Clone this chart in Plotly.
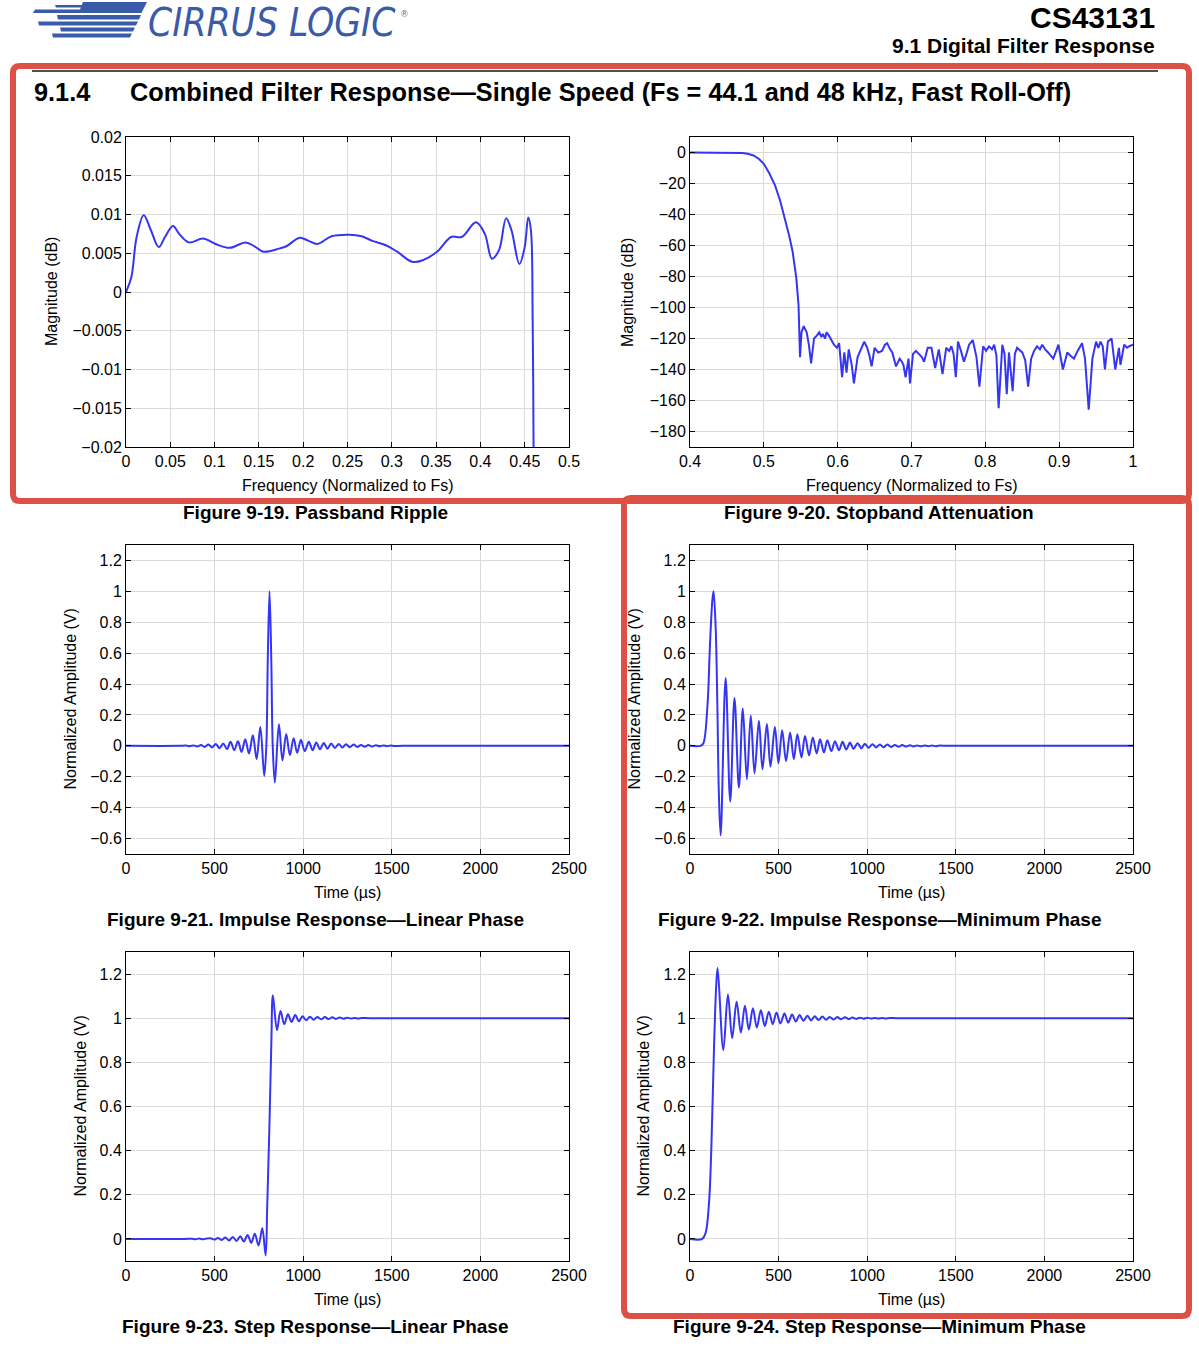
import plotly.graph_objects as go

W, H = 1199, 1347

# ---------------- data ----------------
# Figure 9-19 passband ripple
pb_freq = [0, 0.006, 0.012, 0.020, 0.028, 0.037, 0.044, 0.053, 0.060, 0.071, 0.087, 0.101,
           0.117, 0.135, 0.145, 0.155, 0.173, 0.181, 0.196, 0.206, 0.216, 0.232, 0.252, 0.266,
           0.278, 0.294, 0.306, 0.323, 0.335, 0.351, 0.367, 0.379, 0.395, 0.405, 0.413, 0.421,
           0.429, 0.435, 0.444, 0.450, 0.454, 0.457, 0.459, 0.460, 0.4605]
pb_mag = [0, 0.0019, 0.0071, 0.0099, 0.0080, 0.0058, 0.0071, 0.0085, 0.0075, 0.0064, 0.0069, 0.0062,
          0.0057, 0.0064, 0.0059, 0.0052, 0.0056, 0.0059, 0.0070, 0.0066, 0.0062, 0.0072, 0.0074, 0.0072,
          0.0066, 0.0060, 0.0052, 0.0039, 0.0041, 0.0052, 0.0071, 0.0071, 0.0090, 0.0075, 0.0043, 0.0054,
          0.0095, 0.0080, 0.0036, 0.0058, 0.0096, 0.0080, -0.0037, -0.020, -0.030]

# Figure 9-20 stopband attenuation
sb_freq = [0.40, 0.44, 0.46, 0.471, 0.478, 0.486, 0.493, 0.500, 0.507, 0.515, 0.522, 0.529, 0.534,
           0.539, 0.544, 0.547, 0.549, 0.551, 0.554, 0.558, 0.561, 0.564, 0.568, 0.572, 0.575, 0.578,
           0.580, 0.583, 0.585, 0.588, 0.590, 0.593, 0.595, 0.599, 0.602, 0.606, 0.609, 0.612, 0.615,
           0.619, 0.622, 0.627, 0.631, 0.636, 0.640, 0.643, 0.646, 0.650, 0.655, 0.660, 0.664, 0.667,
           0.671, 0.674, 0.679, 0.684, 0.687, 0.689, 0.692, 0.696, 0.698, 0.702, 0.706, 0.710, 0.714,
           0.717, 0.722, 0.727, 0.732, 0.737, 0.742, 0.747, 0.751, 0.754, 0.757, 0.760, 0.763, 0.767,
           0.771, 0.775, 0.778, 0.783, 0.788, 0.792, 0.797, 0.801, 0.805, 0.809, 0.812, 0.815, 0.818,
           0.823, 0.826, 0.829, 0.832, 0.837, 0.840, 0.843, 0.847, 0.850, 0.854, 0.858, 0.862, 0.866,
           0.870, 0.874, 0.877, 0.881, 0.885, 0.889, 0.892, 0.896, 0.899, 0.905, 0.911, 0.915, 0.920,
           0.925, 0.931, 0.935, 0.940, 0.945, 0.950, 0.953, 0.956, 0.959, 0.962, 0.966, 0.971, 0.976,
           0.981, 0.983, 0.988, 0.992, 0.995, 1.000]
sb_mag = [0, 0, -0.05, -0.3, -0.8, -1.9, -4, -7.3, -13, -21, -31, -43, -53,
          -64, -81, -98.5, -132, -116, -112, -116, -124, -136, -120, -118, -116, -119,
          -117, -120, -116, -118, -120, -123, -124, -126, -123, -145, -129, -142, -127,
          -137, -149, -132, -127, -122, -126, -131, -138, -126, -129, -128, -124, -123,
          -127, -129, -138, -133, -135, -137, -145, -133, -149, -130, -128, -130, -132,
          -135, -126, -126, -139, -127, -143, -126, -128, -125, -130, -145, -122, -128,
          -135, -129, -124, -121, -132, -151, -125, -128, -125, -127, -124, -131, -165,
          -124, -130, -156, -129, -154, -130, -126, -128, -129, -134, -151, -133, -128,
          -125, -127, -124, -127, -129, -131, -133, -128, -124, -140, -129, -131, -133,
          -128, -123, -133, -166, -133, -122, -126, -122, -125, -140, -122, -120, -140,
          -126, -137, -124, -126, -125, -124]

# Figure 9-21 impulse response, linear phase
imp_lin_t = [0, 300, 339, 360, 381, 402, 423, 444, 465, 486, 507, 528, 549, 570, 590, 611, 632,
             652, 673, 694, 716, 737, 758, 780, 792, 800, 810, 820, 828, 840, 863, 883, 904, 925,
             946, 966, 987, 1009, 1032, 1053, 1074, 1095, 1116, 1137, 1158, 1179, 1200, 1221, 1242,
             1263, 1284, 1305, 1326, 1347, 1368, 1389, 1410, 1431, 1452, 1473, 1494, 1515, 1560, 2500]
imp_lin_v = [0, 0, 0.0015, -0.002, 0.003, -0.004, 0.005, -0.007, 0.008, -0.010, 0.012, -0.015, 0.016,
             -0.021, 0.026, -0.028, 0.030, -0.039, 0.043, -0.049, 0.068, -0.086, 0.122, -0.195, 0,
             0.55, 1.0, 0.55, 0, -0.238, 0.139, -0.094, 0.077, -0.060, 0.049, -0.045, 0.039, -0.034,
             0.026, -0.028, 0.022, -0.022, 0.018, -0.018, 0.015, -0.014, 0.012, -0.011, 0.010, -0.009,
             0.008, -0.007, 0.006, -0.006, 0.005, -0.004, 0.004, -0.003, 0.003, -0.002, 0.002, -0.0015,
             0, 0]

# Figure 9-22 impulse response, minimum phase
imp_min_t = [0, 60, 75, 98, 113, 126, 133, 145, 154, 163, 173, 201, 227, 251, 276, 298, 321, 343,
             364, 389, 409, 434, 454, 479, 499, 520, 542, 565, 586, 606, 629, 649, 672, 693, 715, 734,
             756, 775, 798, 818, 841, 861, 882, 903, 923, 946, 967, 987, 1008, 1030, 1051, 1072, 1092,
             1113, 1135, 1156, 1177, 1197, 1220, 1241, 1261, 1282, 1303, 1323, 1344, 1365, 1387, 1408,
             1450, 2500]
imp_min_v = [0, 0, 0.015, 0.25, 0.66, 0.94, 1.0, 0.76, 0.29, -0.31, -0.58, 0.439, -0.36, 0.31, -0.27,
             0.242, -0.216, 0.197, -0.178, 0.163, -0.152, 0.141, -0.135, 0.122, -0.113, 0.101, -0.098,
             0.086, -0.086, 0.075, -0.075, 0.064, -0.062, 0.054, -0.049, 0.043, -0.043, 0.036, -0.034,
             0.030, -0.028, 0.026, -0.024, 0.021, -0.019, 0.017, -0.016, 0.014, -0.013, 0.011, -0.010,
             0.009, -0.009, 0.008, -0.007, 0.006, -0.006, 0.005, -0.005, 0.004, -0.004, 0.003, -0.003,
             0.003, -0.002, 0.002, -0.002, 0.0015, 0, 0]

# Figure 9-23 step response, linear phase
step_lin_t = [0, 330, 372, 393, 414, 435, 456, 477, 498, 519, 540, 561, 582, 603, 624, 645, 665, 686,
              707, 727, 748, 769, 788, 797, 809, 820, 829, 852, 872, 893, 914, 934, 955, 976, 996, 1017,
              1038, 1059, 1080, 1101, 1122, 1143, 1164, 1185, 1206, 1227, 1248, 1269, 1290, 1311, 1332,
              1380, 2500]
step_lin_v = [0, 0, 0.001, -0.001, 0.0015, -0.0015, 0.002, 0.003, -0.003, 0.004, -0.005, 0.006, -0.007,
              0.009, -0.009, 0.012, -0.012, 0.018, -0.018, 0.024, -0.030, 0.048, -0.075, 0.15, 0.5, 0.88,
              1.104, 0.946, 1.033, 0.973, 1.018, 0.983, 1.014, 0.986, 1.009, 0.991, 1.007, 0.993, 1.006,
              0.995, 1.005, 0.996, 1.004, 0.997, 1.003, 0.998, 1.002, 0.9985, 1.0015, 0.999, 1.001, 1.0,
              1.0]

# Figure 9-24 step response, minimum phase
step_min_t = [0, 69, 88, 107, 120, 135, 148, 156, 188, 214, 238, 263, 287, 310, 332, 355, 377, 400,
              422, 445, 467, 488, 510, 533, 554, 576, 597, 619, 640, 663, 683, 704, 725, 747, 768, 788,
              811, 831, 852, 875, 895, 916, 937, 959, 980, 1000, 1021, 1044, 1064, 1085, 1106, 1126,
              1170, 2500]
step_min_v = [0, 0, 0.027, 0.16, 0.40, 0.85, 1.15, 1.228, 0.856, 1.108, 0.91, 1.075, 0.935, 1.056,
              0.949, 1.045, 0.958, 1.036, 0.965, 1.029, 0.973, 1.026, 0.976, 1.021, 0.98, 1.0165, 0.985,
              1.014, 0.988, 1.011, 0.990, 1.009, 0.9915, 1.0075, 0.993, 1.006, 0.9945, 1.005, 0.9955,
              1.004, 0.9965, 1.003, 0.997, 1.0025, 0.998, 1.002, 0.9985, 1.0015, 0.999, 1.001, 0.9992,
              1.0008, 1.0, 1.0]

# tick values / labels
M = "\u2212"
pb_xticks = [0, 0.05, 0.1, 0.15, 0.2, 0.25, 0.3, 0.35, 0.4, 0.45, 0.5]
pb_xlabels = ["0", "0.05", "0.1", "0.15", "0.2", "0.25", "0.3", "0.35", "0.4", "0.45", "0.5"]
pb_yticks = [0.02, 0.015, 0.01, 0.005, 0, -0.005, -0.01, -0.015, -0.02]
pb_ylabels = ["0.02", "0.015", "0.01", "0.005", "0", M + "0.005", M + "0.01", M + "0.015", M + "0.02"]
sb_xticks = [0.4, 0.5, 0.6, 0.7, 0.8, 0.9, 1.0]
sb_xlabels = ["0.4", "0.5", "0.6", "0.7", "0.8", "0.9", "1"]
sb_yticks = [0, -20, -40, -60, -80, -100, -120, -140, -160, -180]
sb_ylabels = ["0", M + "20", M + "40", M + "60", M + "80", M + "100", M + "120", M + "140", M + "160", M + "180"]
t_ticks = [0, 500, 1000, 1500, 2000, 2500]
t_labels = ["0", "500", "1000", "1500", "2000", "2500"]
imp_yticks = [1.2, 1, 0.8, 0.6, 0.4, 0.2, 0, -0.2, -0.4, -0.6]
imp_ylabels = ["1.2", "1", "0.8", "0.6", "0.4", "0.2", "0", M + "0.2", M + "0.4", M + "0.6"]
step_yticks = [1.2, 1, 0.8, 0.6, 0.4, 0.2, 0]
step_ylabels = ["1.2", "1", "0.8", "0.6", "0.4", "0.2", "0"]

captions = ["Figure 9-19. Passband Ripple", "Figure 9-20. Stopband Attenuation",
            "Figure 9-21. Impulse Response\u2014Linear Phase", "Figure 9-22. Impulse Response\u2014Minimum Phase",
            "Figure 9-23. Step Response\u2014Linear Phase", "Figure 9-24. Step Response\u2014Minimum Phase"]

# ---------------- layout helpers ----------------
def px(x):
    return x / W


def py(y):
    return 1 - y / H


FONT = "Liberation Sans, Arial, Helvetica, sans-serif"
BLUE = "#3535f2"
GRID = "#dadada"
RED = "#dc5046"
LOGO = "#3a5ba8"

# plot boxes in pixels: x0, x1, y0(top), y1(bottom)
boxes = [(126, 569, 137, 447), (690, 1133, 137, 447),
         (126, 569, 545, 854), (690, 1133, 545, 854),
         (126, 569, 952, 1261), (690, 1133, 952, 1261)]
caption_cx = [315, 879, 315, 879, 315, 879]

series = [(pb_freq, pb_mag, "spline"), (sb_freq, sb_mag, "linear"),
          (imp_lin_t, imp_lin_v, "spline"), (imp_min_t, imp_min_v, "spline"),
          (step_lin_t, step_lin_v, "spline"), (step_min_t, step_min_v, "spline")]

axes_spec = [
    ([0, 0.5], pb_xticks, pb_xlabels, [-0.02, 0.02], pb_yticks, pb_ylabels),
    ([0.4, 1.0], sb_xticks, sb_xlabels, [-190, 10], sb_yticks, sb_ylabels),
    ([0, 2500], t_ticks, t_labels, [-0.7, 1.3], imp_yticks, imp_ylabels),
    ([0, 2500], t_ticks, t_labels, [-0.7, 1.3], imp_yticks, imp_ylabels),
    ([0, 2500], t_ticks, t_labels, [-0.1, 1.3], step_yticks, step_ylabels),
    ([0, 2500], t_ticks, t_labels, [-0.1, 1.3], step_yticks, step_ylabels),
]

xtitles = ["Frequency (Normalized to Fs)", "Frequency (Normalized to Fs)",
           "Time (\u00b5s)", "Time (\u00b5s)", "Time (\u00b5s)", "Time (\u00b5s)"]
ytitles = ["Magnitude (dB)", "Magnitude (dB)", "Normalized Amplitude (V)", "Normalized Amplitude (V)",
           "Normalized Amplitude (V)", "Normalized Amplitude (V)"]
ytitle_x = [52, 628, 70, 634, 80, 643]

fig = go.Figure()
layout = dict(width=W, height=H, margin=dict(l=0, r=0, t=0, b=0, pad=0, autoexpand=False),
              paper_bgcolor="white", plot_bgcolor="white", showlegend=False,
              template="none", font=dict(family=FONT, color="black"))

common = dict(showline=True, linecolor="black", linewidth=1, mirror="allticks", ticks="inside",
              ticklen=5, tickcolor="black", tickwidth=1, showgrid=True, gridcolor=GRID, gridwidth=1,
              zeroline=False, automargin=False,
              tickfont=dict(family=FONT, size=16, color="black"), fixedrange=True)

annotations = []
for i, ((x0, x1, y0, y1), (xs, ys, shp), (xr, xt, xl, yr, yt, yl)) in enumerate(zip(boxes, series, axes_spec), start=1):
    sfx = "" if i == 1 else str(i)
    line = dict(color=BLUE, width=2, shape=shp)
    if shp == "spline":
        line["smoothing"] = 1.0
    fig.add_trace(go.Scatter(x=xs, y=ys, mode="lines", line=line, hoverinfo="skip",
                             xaxis="x" + sfx, yaxis="y" + sfx))
    layout["xaxis" + sfx] = dict(common, domain=[px(x0), px(x1)], anchor="y" + sfx, range=xr,
                                 tickmode="array", tickvals=xt, ticktext=xl)
    layout["yaxis" + sfx] = dict(common, domain=[py(y1), py(y0)], anchor="x" + sfx, range=yr,
                                 tickmode="array", tickvals=yt, ticktext=yl)
    cx = (x0 + x1) / 2
    annotations.append(dict(x=px(cx), y=py(y1 + 38), xref="paper", yref="paper",
                            text=xtitles[i - 1], showarrow=False, xanchor="center", yanchor="middle",
                            font=dict(family=FONT, size=16, color="black")))
    annotations.append(dict(x=px(ytitle_x[i - 1]), y=py((y0 + y1) / 2), xref="paper", yref="paper",
                            text=ytitles[i - 1], showarrow=False, textangle=-90,
                            xanchor="center", yanchor="middle",
                            font=dict(family=FONT, size=16, color="black")))
    annotations.append(dict(x=px(caption_cx[i - 1]), y=py(y1 + 65), xref="paper", yref="paper",
                            text="<b>%s</b>" % captions[i - 1], showarrow=False, xanchor="center",
                            yanchor="middle", font=dict(family=FONT, size=19, color="black")))

# header texts
annotations += [
    dict(x=px(1157), y=py(18), xref="paper", yref="paper", text="<b>CS43131</b>", showarrow=False,
         xanchor="right", yanchor="middle", font=dict(family=FONT, size=30, color="black")),
    dict(x=px(1157), y=py(46), xref="paper", yref="paper", text="<b>9.1 Digital Filter Response</b>",
         showarrow=False, xanchor="right", yanchor="middle", font=dict(family=FONT, size=21, color="black")),
    dict(x=px(32), y=py(92), xref="paper", yref="paper", text="<b>9.1.4</b>", showarrow=False,
         xanchor="left", yanchor="middle", font=dict(family=FONT, size=25.3, color="black")),
    dict(x=px(128), y=py(92), xref="paper", yref="paper",
         text="<b>Combined Filter Response\u2014Single Speed (Fs = 44.1 and 48 kHz, Fast Roll-Off)</b>",
         showarrow=False, xanchor="left", yanchor="middle", font=dict(family=FONT, size=25.3, color="black")),
    dict(x=px(146), y=py(23), xref="paper", yref="paper", text="<i>CIRRUS LOGIC</i>", showarrow=False,
         xanchor="left", yanchor="middle",
         font=dict(family="DejaVu Sans Condensed, DejaVu Sans", size=38.5, color=LOGO)),
    dict(x=px(399), y=py(14), xref="paper", yref="paper", text="\u00ae", showarrow=False,
         xanchor="left", yanchor="middle", font=dict(family=FONT, size=9, color=LOGO)),
]

shapes = []


def poly(points):
    d = "M " + " L ".join("%.5f,%.5f" % (px(x), py(y)) for x, y in points) + " Z"
    return dict(type="path", path=d, xref="paper", yref="paper", fillcolor=LOGO,
                line=dict(width=0), layer="above")


# logo speed stripes
shapes += [
    poly([(83, 2), (147, 2), (141.5, 13), (33, 13), (35, 9.5), (80, 9.5)]),
    poly([(55, 5), (85, 5), (85, 7.5), (56, 7.5)]),
    poly([(57, 15), (141, 15), (139, 19.5), (58, 19.5)]),
    poly([(38, 21.5), (138, 21.5), (136, 25.5), (39, 25.5)]),
    poly([(60, 27.5), (135, 27.5), (133, 31.5), (61, 31.5)]),
    poly([(52, 33.5), (132, 33.5), (130, 37.5), (53, 37.5)]),
]

# header rule
shapes.append(dict(type="line", xref="paper", yref="paper", x0=px(32), x1=px(1158), y0=py(71), y1=py(71),
                   line=dict(color="#505050", width=2), layer="above"))


def rbox(x0, y0, x1, y1, r=7):
    pts = [("M", x0 + r, y0), ("L", x1 - r, y0), ("Q", x1, y0, x1, y0 + r), ("L", x1, y1 - r),
           ("Q", x1, y1, x1 - r, y1), ("L", x0 + r, y1), ("Q", x0, y1, x0, y1 - r), ("L", x0, y0 + r),
           ("Q", x0, y0, x0 + r, y0)]
    parts = []
    for p in pts:
        if p[0] == "Q":
            parts.append("Q %.5f,%.5f %.5f,%.5f" % (px(p[1]), py(p[2]), px(p[3]), py(p[4])))
        else:
            parts.append("%s %.5f,%.5f" % (p[0], px(p[1]), py(p[2])))
    return dict(type="path", path=" ".join(parts) + " Z", xref="paper", yref="paper",
                line=dict(color=RED, width=6), fillcolor="rgba(0,0,0,0)", layer="above")


shapes.append(rbox(13, 66, 1189, 501))
shapes.append(rbox(624, 498, 1189, 1316))

layout["annotations"] = annotations
layout["shapes"] = shapes
fig.update_layout(**layout)
fig.write_html("out.html")
